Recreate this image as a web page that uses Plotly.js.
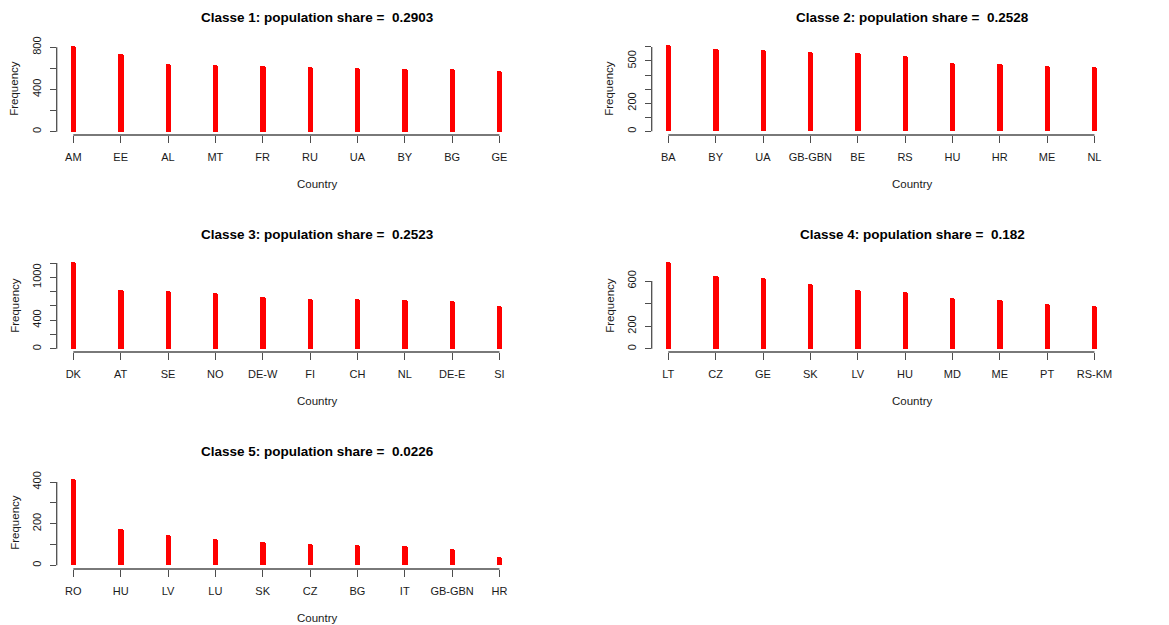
<!DOCTYPE html>
<html>
<head>
<meta charset="utf-8">
<script src="https://cdn.plot.ly/plotly-3.0.1.min.js"></script>
<style>html,body{margin:0;padding:0;background:#fff;}#chart{width:1169px;height:625px;}</style>
</head>
<body>
<div id="chart"></div>
<script>
// ---- data ----
const cats1 = ["AM","EE","AL","MT","FR","RU","UA","BY","BG","GE"];
const freq1 = [816,737,640,630,623,614,602,595,592,573];
const cats2 = ["BA","BY","UA","GB-GBN","BE","RS","HU","HR","ME","NL"];
const freq2 = [611,587,576,562,557,538,483,481,462,455];
const cats3 = ["DK","AT","SE","NO","DE-W","FI","CH","NL","DE-E","SI"];
const freq3 = [1210,822,803,784,724,700,695,682,672,594];
const cats4 = ["LT","CZ","GE","SK","LV","HU","MD","ME","PT","RS-KM"];
const freq4 = [766,645,627,571,518,506,447,432,394,379];
const cats5 = ["RO","HU","LV","LU","SK","CZ","BG","IT","GB-GBN","HR"];
const freq5 = [413,176,147,128,113,102,97,93,77,41];
const shares = ["0.2903","0.2528","0.2523","0.182","0.0226"];

const yTicks1 = [0,200,400,600,800];          const yText1 = ["0","","400","","800"];
const yTicks2 = [0,100,200,300,400,500,600];  const yText2 = ["0","","200","","","500",""];
const yTicks3 = [0,200,400,600,800,1000,1200];const yText3 = ["0","","400","","","1000",""];
const yTicks4 = [0,200,400,600];              const yText4 = ["0","200","","600"];
const yTicks5 = [0,100,200,300,400];          const yText5 = ["0","","200","","400"];

const xLabel = "Country";
const yLabel = "Frequency";

// ---- layout geometry (pixels) ----
const W = 1169, H = 625;
const colLeft = [56.7, 651.7], colRight = [580, 1169];
const rowTop = [42, 259, 476], rowBottom = [135, 352, 569];
const firstPad = 16.6, step = 47.35;
const yRanges = [[-31.3,850],[-26.3,635],[-46,1256],[-29,795],[-17.8,429]];

const panels = [
  {cats:cats1, freq:freq1, tv:yTicks1, tt:yText1, col:0, row:0},
  {cats:cats2, freq:freq2, tv:yTicks2, tt:yText2, col:1, row:0},
  {cats:cats3, freq:freq3, tv:yTicks3, tt:yText3, col:0, row:1},
  {cats:cats4, freq:freq4, tv:yTicks4, tt:yText4, col:1, row:1},
  {cats:cats5, freq:freq5, tv:yTicks5, tt:yText5, col:0, row:2}
];

const FONT = "Liberation Sans, Arial, Helvetica, sans-serif";
const AXC = "#4d4d4d";
const TXT = "#1a1a1a";
const px = x => x / W;
const py = y => 1 - y / H;

const data = [], shapes = [], annotations = [];
const layout = {
  width: W, height: H,
  margin: {l:0, r:0, t:0, b:0},
  paper_bgcolor: "#fff", plot_bgcolor: "#fff",
  showlegend: false,
  font: {family: FONT, size: 11, color: TXT},
  bargap: 0
};

panels.forEach((p, i) => {
  const n = i + 1;
  const xa = "x" + (n === 1 ? "" : n), ya = "y" + (n === 1 ? "" : n);
  const L = colLeft[p.col], R = colRight[p.col];
  const T = rowTop[p.row], B = rowBottom[p.row];
  data.push({
    type: "bar", x: p.cats, y: p.freq, xaxis: xa, yaxis: ya,
    width: 0.112,
    marker: {color: "#FF0000", line: {width: 0}, cornerradius: 2.6},
    hoverinfo: "x+y"
  });
  const xRight = (R - L - firstPad) / step;
  layout["xaxis" + (n === 1 ? "" : n)] = {
    domain: [px(L), px(R)], anchor: ya,
    type: "category", range: [-firstPad / step, xRight],
    showline: false, showgrid: false, zeroline: false,
    ticks: "outside", ticklen: 7, tickwidth: 1, tickcolor: AXC,
    ticklabelstandoff: 5,
    tickfont: {family: FONT, size: 11, color: TXT},
    fixedrange: true
  };
  layout["yaxis" + (n === 1 ? "" : n)] = {
    domain: [py(B), py(T)], anchor: xa,
    range: yRanges[i],
    showline: false, showgrid: false, zeroline: false,
    tickmode: "array", tickvals: p.tv, ticktext: p.tt,
    ticks: "outside", ticklen: 6, tickwidth: 1, tickcolor: AXC,
    tickangle: -90, ticklabelstandoff: 4,
    tickfont: {family: FONT, size: 11, color: TXT},
    fixedrange: true
  };
  // R-style axis lines spanning tick range only
  shapes.push({type: "line", xref: xa, yref: ya + " domain",
    x0: p.cats[0], x1: p.cats[p.cats.length - 1], y0: 0, y1: 0,
    line: {color: AXC, width: 1.3}});
  shapes.push({type: "line", xref: xa + " domain", yref: ya,
    x0: 0, x1: 0, y0: p.tv[0], y1: p.tv[p.tv.length - 1],
    line: {color: AXC, width: 1.3}});
  const cx = L + 261;
  annotations.push({xref: "paper", yref: "paper", x: px(cx), y: py(T - 24.7),
    xanchor: "center", yanchor: "middle", showarrow: false,
    text: "<b>Classe " + n + ": population share = \u00a0" + shares[i] + "</b>",
    font: {family: FONT, size: 13.5, color: "#000"}});
  annotations.push({xref: "paper", yref: "paper", x: px(cx), y: py(B + 49),
    xanchor: "center", yanchor: "middle", showarrow: false,
    text: xLabel, font: {family: FONT, size: 11.5, color: TXT}});
  annotations.push({xref: "paper", yref: "paper", x: px(L - 42.4), y: py((T + B) / 2),
    xanchor: "center", yanchor: "middle", showarrow: false, textangle: -90,
    text: yLabel, font: {family: FONT, size: 11.5, color: TXT}});
});

layout.shapes = shapes;
layout.annotations = annotations;

Plotly.newPlot("chart", data, layout, {displayModeBar: false});
</script>
</body>
</html>
